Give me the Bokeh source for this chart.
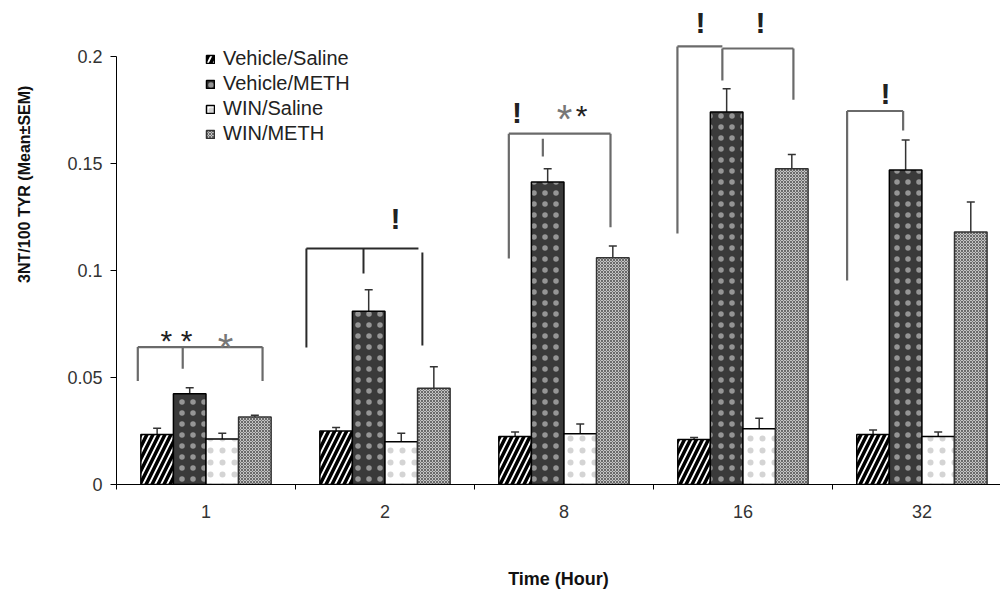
from bokeh.plotting import figure
from bokeh.models import ColumnDataSource, Range1d, FixedTicker, Whisker, TeeHead
from bokeh.core.properties import value
from bokeh.embed import file_html
from bokeh.resources import INLINE

# ---- data ----
hours = ["1", "2", "8", "16", "32"]
groups = ["Vehicle/Saline", "Vehicle/METH", "WIN/Saline", "WIN/METH"]
veh_saline = [0.0234, 0.025, 0.0224, 0.021, 0.0234]
veh_saline_sem = [0.0029, 0.0016, 0.0021, 0.001, 0.0021]
veh_meth = [0.0424, 0.081, 0.1413, 0.174, 0.147]
veh_meth_sem = [0.0028, 0.010, 0.0062, 0.0109, 0.014]
win_saline = [0.0213, 0.020, 0.0237, 0.026, 0.0224]
win_saline_sem = [0.0027, 0.004, 0.0046, 0.005, 0.0021]
win_meth = [0.0315, 0.045, 0.106, 0.1475, 0.118]
win_meth_sem = [0.0009, 0.010, 0.0054, 0.0067, 0.014]
y_ticks = [0, 0.05, 0.1, 0.15, 0.2]
y_tick_labels = ["0", "0.05", "0.1", "0.15", "0.2"]
y_title = "3NT/100 TYR (Mean\u00b1SEM)"
x_title = "Time (Hour)"

# significance annotations (data coordinates)
br_x0 = [0.119, 0.119, 0.370, 0.816,
         2.192, 2.192, 2.382, 2.760,
         3.134, 3.385, 3.134, 3.385, 3.782,
         4.082, 4.082, 4.395]
br_y0 = [0.0642, 0.0642, 0.0642, 0.0642,
         0.1639, 0.1639, 0.1615, 0.1639,
         0.2047, 0.2037, 0.2047, 0.2037, 0.2037,
         0.1745, 0.1745, 0.1745]
br_x1 = [0.816, 0.119, 0.370, 0.816,
         2.760, 2.192, 2.382, 2.760,
         3.385, 3.782, 3.134, 3.385, 3.782,
         4.395, 4.082, 4.395]
br_y1 = [0.0642, 0.0483, 0.0541, 0.0483,
         0.1639, 0.1056, 0.1533, 0.1202,
         0.2047, 0.2037, 0.1173, 0.1888, 0.1798,
         0.1745, 0.0953, 0.1654]
br2_x0 = [1.061, 1.061, 1.380, 1.709]
br2_y0 = [0.1103, 0.1103, 0.1103, 0.1084]
br2_x1 = [1.687, 1.061, 1.380, 1.709]
br2_y1 = [0.1103, 0.064, 0.0986, 0.065]
bang_x = [1.559, 2.238, 3.263, 3.598, 4.296]
bang_y = [0.1243, 0.1739, 0.2159, 0.2159, 0.1827]
star_x = [0.335, 2.598]
star_y = [0.0672, 0.1725]
star_t = ["* *", "*"]
gstar_x = [0.609, 2.503]
gstar_y = [0.0638, 0.1706]

FONT = "Liberation Sans"
n = len(hours)
offsets = [-0.273, -0.091, 0.091, 0.273]
bar_w = 0.182

p = figure(width=1000, height=591, output_backend="svg", toolbar_location=None,
           x_range=Range1d(0, 4.939), y_range=Range1d(0, 0.2224),
           min_border_left=116, min_border_right=0, min_border_top=8, min_border_bottom=107)
p.outline_line_color = None
p.xgrid.visible = False
p.ygrid.visible = False
p.background_fill_color = "white"

series = [veh_saline, veh_meth, win_saline, win_meth]
sems = [veh_saline_sem, veh_meth_sem, win_saline_sem, win_meth_sem]
styles = [
    dict(fill_color="white", hatch_pattern="right_diagonal_line", hatch_color="black",
         hatch_scale=12, hatch_weight=3.5, line_color="black"),
    dict(fill_color="#3a3a3a", hatch_pattern="dot", hatch_color="#e0e0e0",
         hatch_scale=11, hatch_weight=0.5, hatch_alpha=0.55, line_color="black"),
    dict(fill_color="white", hatch_pattern="dot", hatch_color="#a0a0a0",
         hatch_scale=12, hatch_weight=0.5, hatch_alpha=0.45, line_color="black"),
    dict(fill_color="#c4c4c4", hatch_pattern="diagonal_cross", hatch_color="#6a6a6a",
         hatch_scale=3, hatch_weight=1, line_color="#333333"),
]

for k in range(4):
    xs = [i + 0.5 + offsets[k] for i in range(n)]
    src = ColumnDataSource(dict(x=xs, top=series[k],
                                upper=[series[k][i] + sems[k][i] for i in range(n)]))
    p.vbar(x="x", top="top", bottom=0, width=bar_w, source=src, line_width=1.5,
           legend_label=groups[k], **styles[k])
    w = Whisker(base="x", lower="top", upper="upper", source=src, dimension="height",
                line_color="#333333", line_width=1.5,
                upper_head=TeeHead(size=8, line_color="#333333", line_width=1.5),
                lower_head=None)
    p.add_layout(w)

# brackets
p.segment(br_x0, br_y0, br_x1, br_y1, line_color="#6a6a6a", line_width=2.2)
p.segment(br2_x0, br2_y0, br2_x1, br2_y1, line_color="#2a2a2a", line_width=2)
p.text(bang_x, bang_y, text=["!"] * len(bang_x), text_font=value(FONT),
       text_font_style="bold", text_font_size="30px", text_align="center",
       text_baseline="alphabetic", text_color="#222222")
p.text(star_x, star_y, text=star_t, text_font=value(FONT), text_font_size="30px",
       text_align="center", text_baseline="alphabetic", text_color="#222222")
p.text(gstar_x, gstar_y, text=["*"] * len(gstar_x), text_font=value(FONT),
       text_font_size="40px", text_align="center", text_baseline="alphabetic",
       text_color="#777777")

# x axis
xa = p.xaxis[0]
xa.ticker = FixedTicker(ticks=[i + 0.5 for i in range(n)], minor_ticks=list(range(n + 1)))
xa.major_label_overrides = {i + 0.5: hours[i] for i in range(n)}
xa.major_tick_line_color = None
xa.major_tick_out = 0
xa.major_tick_in = 0
xa.minor_tick_out = 5
xa.minor_tick_in = 0
xa.minor_tick_line_color = "black"
xa.axis_line_color = "black"
xa.major_label_text_font = FONT
xa.major_label_text_font_size = "18px"
xa.major_label_text_color = "#333333"
xa.major_label_standoff = 15
xa.axis_label = x_title
xa.axis_label_text_font = FONT
xa.axis_label_text_font_style = "bold"
xa.axis_label_text_font_size = "18px"
xa.axis_label_text_color = "#111111"
xa.axis_label_standoff = 48

# y axis
ya = p.yaxis[0]
ya.ticker = FixedTicker(ticks=y_ticks)
ya.major_label_overrides = {y_ticks[i]: y_tick_labels[i] for i in range(len(y_ticks))}
ya.bounds = (0, 0.2)
ya.minor_tick_line_color = None
ya.major_tick_out = 6
ya.major_tick_in = 0
ya.axis_line_color = "black"
ya.major_tick_line_color = "black"
ya.major_label_text_font = FONT
ya.major_label_text_font_size = "18px"
ya.major_label_text_color = "#333333"
ya.major_label_standoff = 8
# padded so the centred title sits in the upper part of the axis, as in the original
ya.axis_label = "\u00a0" * 28 + y_title
ya.axis_label_text_font = FONT
ya.axis_label_text_font_style = "bold"
ya.axis_label_text_font_size = "16px"
ya.axis_label_text_color = "#111111"
ya.axis_label_standoff = 31

lg = p.legend[0]
lg.location = (89, 338)
lg.border_line_color = None
lg.background_fill_alpha = 0
lg.padding = 0
lg.margin = 0
lg.spacing = 0
lg.label_height = 25
lg.glyph_height = 10
lg.glyph_width = 10
lg.label_standoff = 8
lg.label_text_font = FONT
lg.label_text_font_size = "20px"
lg.label_text_color = "#222222"

open("out.html", "w").write(file_html(p, INLINE))
